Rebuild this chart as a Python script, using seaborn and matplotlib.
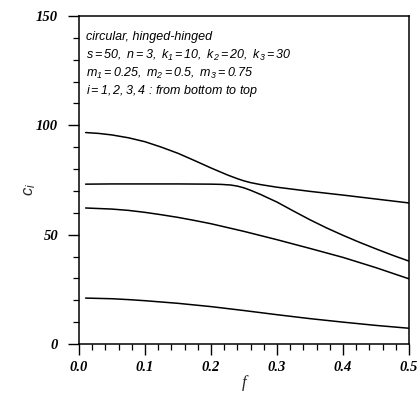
import matplotlib
matplotlib.use("Agg")
import matplotlib.pyplot as plt
from matplotlib.ticker import MultipleLocator, FormatStrFormatter
import seaborn as sns
import pandas as pd

# ---- data ----
f1 = [0.01, 0.05, 0.075, 0.10, 0.125, 0.15, 0.20, 0.25, 0.30, 0.35, 0.40, 0.45, 0.50]
c1 = [21.0, 20.7, 20.3, 19.8, 19.2, 18.6, 17.1, 15.3, 13.4, 11.6, 10.0, 8.5, 7.2]

f2 = [0.01, 0.05, 0.075, 0.10, 0.125, 0.15, 0.175, 0.20, 0.25, 0.30, 0.35,
      0.40, 0.45, 0.50]
c2 = [62.2, 61.7, 61.1, 60.2, 59.1, 57.9, 56.5, 55.0, 51.5, 47.7, 43.7,
      39.6, 34.9, 29.8]

f3 = [0.01, 0.05, 0.10, 0.15, 0.20, 0.215, 0.23, 0.24, 0.25, 0.26, 0.275,
      0.29, 0.30, 0.325, 0.35, 0.375, 0.40, 0.425, 0.45, 0.475, 0.50]
c3 = [73.1, 73.2, 73.2, 73.2, 73.1, 73.0, 72.7, 72.2, 71.4, 70.3, 68.4,
      66.3, 64.9, 60.8, 56.8, 53.1, 49.7, 46.5, 43.5, 40.6, 37.9]

f4 = [0.01, 0.03, 0.05, 0.075, 0.10, 0.125, 0.15, 0.175, 0.20, 0.225, 0.24,
      0.25, 0.26, 0.275, 0.30, 0.35, 0.40, 0.45, 0.50]
c4 = [96.7, 96.3, 95.6, 94.3, 92.5, 90.0, 87.2, 83.9, 80.5, 77.3, 75.6,
      74.6, 73.8, 72.9, 71.7, 69.8, 68.1, 66.3, 64.5]

series_names = ["i=1", "i=2", "i=3", "i=4"]

annotation_lines = [
    "circular, hinged-hinged",
    r"$s = 50,\ n = 3,\ k_1 = 10,\ k_2 = 20,\ k_3 = 30$",
    r"$m_1 = 0.25,\ m_2 = 0.5,\ m_3 = 0.75$",
    r"$i = 1,2,3,4$ : from bottom to top",
]

rows = []
for name, fs, cs in zip(series_names, [f1, f2, f3, f4], [c1, c2, c3, c4]):
    for fv, cv in zip(fs, cs):
        rows.append({"f": fv, "c": cv, "series": name})
df = pd.DataFrame(rows)

sns.set_style("ticks")
plt.rcParams["mathtext.fontset"] = "custom"
plt.rcParams["mathtext.rm"] = "Liberation Sans:italic"
plt.rcParams["mathtext.it"] = "Liberation Sans:italic"
plt.rcParams["font.family"] = ["Liberation Sans", "DejaVu Sans"]

fig = plt.figure(figsize=(4.19, 3.99), dpi=100)
ax = fig.add_axes([79 / 419, 1 - 344 / 399, 330 / 419, 328 / 399])

sns.lineplot(data=df, x="f", y="c", units="series", estimator=None,
             color="black", linewidth=1.1, ax=ax, sort=False)

ax.set_xlim(0.0, 0.5)
ax.set_ylim(0, 150)
ax.xaxis.set_major_locator(MultipleLocator(0.1))
ax.xaxis.set_minor_locator(MultipleLocator(0.02))
ax.xaxis.set_major_formatter(FormatStrFormatter("%.1f"))
ax.yaxis.set_major_locator(MultipleLocator(50))
ax.yaxis.set_minor_locator(MultipleLocator(10))

ax.tick_params(axis="both", which="major", direction="out", length=8,
               width=1.0, color="black")
ax.tick_params(axis="both", which="minor", direction="out", length=4,
               width=0.9, color="black")
ax.tick_params(axis="y", which="major", pad=7)
ax.tick_params(axis="x", which="major", pad=4)

for sp in ax.spines.values():
    sp.set_visible(True)
    sp.set_linewidth(1.1)
    sp.set_color("black")

for lab in ax.get_xticklabels() + ax.get_yticklabels():
    lab.set_family("Liberation Serif")
    lab.set_style("italic")
    lab.set_weight("bold")
    lab.set_fontsize(10.5)
    lab.set_color("black")

ax.set_xlabel("f", family="Liberation Serif", style="italic", fontsize=12,
              labelpad=1)
ax.set_ylabel(r"$c_i$", fontsize=12)
ax.yaxis.set_label_coords(-0.125, 0.47)

for k, line in enumerate(annotation_lines):
    ax.text(0.022, 0.955 - k * 0.0535, line, transform=ax.transAxes,
            fontsize=9, style="italic", va="top", ha="left", color="black")

fig.savefig("out.png", dpi=100, facecolor="white")
